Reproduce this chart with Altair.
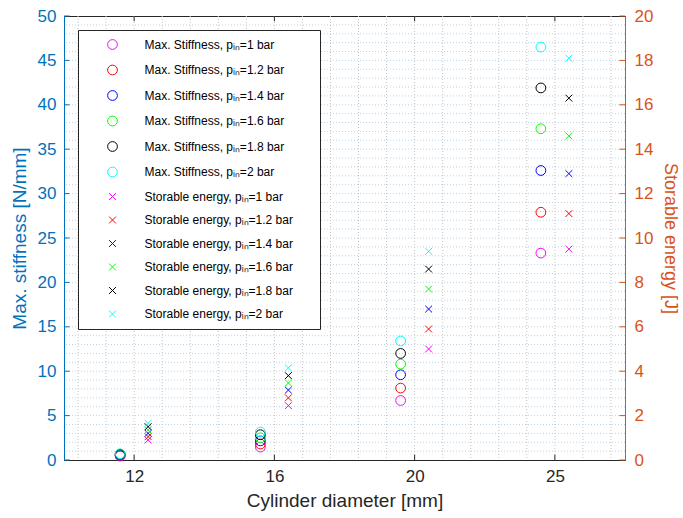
import altair as alt
import pandas as pd

# ---------------- data ----------------
diameters = ["12", "16", "20", "25"]          # tick labels (categorical positions 1..4)
positions = [1, 2, 3, 4]
pressures = ["1", "1.2", "1.4", "1.6", "1.8", "2"]
colors = ["#FF00FF", "#FF0000", "#0000FF", "#00FF00", "#000000", "#00FFFF"]

# Max. stiffness [N/mm] per pressure, for diameters 12, 16, 20, 25
stiff_p10 = [0.45, 1.45, 6.7, 23.3]
stiff_p12 = [0.50, 1.80, 8.1, 27.9]
stiff_p14 = [0.55, 2.15, 9.6, 32.6]
stiff_p16 = [0.60, 2.50, 10.8, 37.3]
stiff_p18 = [0.65, 2.85, 12.0, 41.9]
stiff_p20 = [0.70, 3.15, 13.4, 46.5]

# Storable energy [J] per pressure, for diameters 12, 16, 20, 25
energy_p10 = [0.90, 2.45, 5.0, 9.5]
energy_p12 = [1.05, 2.80, 5.9, 11.1]
energy_p14 = [1.20, 3.15, 6.8, 12.9]
energy_p16 = [1.35, 3.47, 7.7, 14.6]
energy_p18 = [1.50, 3.80, 8.6, 16.3]
energy_p20 = [1.65, 4.15, 9.4, 18.1]

stiffness = [stiff_p10, stiff_p12, stiff_p14, stiff_p16, stiff_p18, stiff_p20]
energy = [energy_p10, energy_p12, energy_p14, energy_p16, energy_p18, energy_p20]

SUB = "\u1d62\u2099"  # subscript "in"
lab_s = [f"Max. Stiffness, p{SUB}={p} bar" for p in pressures]
lab_e = [f"Storable energy, p{SUB}={p} bar" for p in pressures]

rows_s, rows_e = [], []
for i in range(len(pressures)):
    for j, pos in enumerate(positions):
        rows_s.append({"pos": pos, "series": lab_s[i], "value": stiffness[i][j]})
        rows_e.append({"pos": pos, "series": lab_e[i], "value": energy[i][j]})
df_s = pd.DataFrame(rows_s)
df_e = pd.DataFrame(rows_e)

# grid / tick helper tables (axis positions)
vgrid = pd.DataFrame({"gx": [round(0.6 + 0.2 * k, 1) for k in range(20)]})
hgrid = pd.DataFrame({"gy": list(range(1, 50))})
xticks = pd.DataFrame({"x": positions})
lticks = pd.DataFrame({"y": list(range(0, 51, 5))})
rticks = pd.DataFrame({"y": list(range(0, 21, 2))})

# ---------------- style ----------------
FONT = "Liberation Sans"
LEFT_C = "#0072BD"
RIGHT_C = "#D95319"
AX_C = "#262626"
XPATH = "M-0.7,-0.7L0.7,0.7M-0.7,0.7L0.7,-0.7"

xs = alt.Scale(domain=[0.5, 4.5], nice=False, zero=False)
label_expr = "[" + ",".join(f"'{d}'" for d in diameters) + "][round(datum.value)-1]"
xaxis = alt.Axis(values=positions, labelExpr=label_expr, title="Cylinder diameter [mm]",
                 grid=False, ticks=False, domainColor=AX_C, labelColor=AX_C, titleColor=AX_C,
                 labelFontSize=17, titleFontSize=19, titleFontWeight="normal",
                 labelPadding=8, titlePadding=7, labelFont=FONT, titleFont=FONT)

ls = alt.Scale(domain=[0, 50], nice=False, zero=True)
laxis = alt.Axis(values=list(range(0, 51, 5)), title="Max. stiffness [N/mm]", orient="left",
                 grid=False, ticks=False, domainColor=LEFT_C, labelColor=LEFT_C, titleColor=LEFT_C,
                 labelFontSize=17, titleFontSize=19, titleFontWeight="normal",
                 labelPadding=8, titlePadding=8, labelFont=FONT, titleFont=FONT)

rs = alt.Scale(domain=[0, 20], nice=False, zero=True)
raxis = alt.Axis(values=list(range(0, 21, 2)), title="Storable energy [J]", orient="right",
                 grid=False, ticks=False, domainColor=RIGHT_C, labelColor=RIGHT_C, titleColor=RIGHT_C,
                 labelFontSize=17, titleFontSize=18, titleFontWeight="normal",
                 labelPadding=9, titlePadding=8, labelFont=FONT, titleFont=FONT)

legend = alt.Legend(title=None, orient="none", legendX=14, legendY=14,
                    fillColor="white", strokeColor=AX_C, padding=8.5,
                    symbolOffset=20, labelOffset=26, rowPadding=11.5,
                    labelFont=FONT, labelFontSize=12, labelColor="black",
                    symbolSize=95, symbolStrokeWidth=1, labelLimit=400,
                    labelExpr="datum.label + '\u2003\u2002\u200b'")

all_labels = lab_s + lab_e
color_scale = alt.Scale(domain=all_labels, range=colors + colors)
shape_scale = alt.Scale(domain=all_labels, range=["circle"] * 6 + [XPATH] * 6)

# ---------------- layers ----------------
vgrid_l = alt.Chart(vgrid).mark_rule(color="#c4c4c4", strokeDash=[1, 2], strokeWidth=1).encode(
    x=alt.X("gx:Q", scale=xs, axis=xaxis))
hgrid_l = alt.Chart(hgrid).mark_rule(color="#b9d4ea", strokeDash=[1, 2], strokeWidth=1).encode(
    y=alt.Y("gy:Q", scale=ls, axis=laxis))

bt = alt.Chart(xticks).transform_calculate(y1="0", y2="0.6").mark_rule(color=AX_C).encode(
    x=alt.X("x:Q", scale=xs, axis=xaxis), y=alt.Y("y1:Q", scale=ls, axis=laxis), y2="y2:Q")
tt = alt.Chart(xticks).transform_calculate(y1="50", y2="49.4").mark_rule(color=AX_C).encode(
    x=alt.X("x:Q", scale=xs, axis=xaxis), y=alt.Y("y1:Q", scale=ls, axis=laxis), y2="y2:Q")
lt = alt.Chart(lticks).transform_calculate(x1="0.5", x2="0.54").mark_rule(color=LEFT_C).encode(
    x=alt.X("x1:Q", scale=xs, axis=xaxis), x2="x2:Q", y=alt.Y("y:Q", scale=ls, axis=laxis))
rt = alt.Chart(rticks).transform_calculate(x1="4.46", x2="4.5").mark_rule(color=RIGHT_C).encode(
    x=alt.X("x1:Q", scale=xs, axis=xaxis), x2="x2:Q", y=alt.Y("y:Q", scale=rs, axis=raxis))

circles = alt.Chart(df_s).mark_point(filled=False, size=95, strokeWidth=1, xOffset=-14, opacity=1).encode(
    x=alt.X("pos:Q", scale=xs, axis=xaxis),
    y=alt.Y("value:Q", scale=ls, axis=laxis),
    color=alt.Color("series:N", scale=color_scale, legend=legend),
    shape=alt.Shape("series:N", scale=shape_scale, legend=legend),
)
crosses = alt.Chart(df_e).mark_point(filled=False, size=95, strokeWidth=1, xOffset=14, opacity=1).encode(
    x=alt.X("pos:Q", scale=xs, axis=xaxis),
    y=alt.Y("value:Q", scale=rs, axis=raxis),
    color=alt.Color("series:N", scale=color_scale, legend=legend),
    shape=alt.Shape("series:N", scale=shape_scale, legend=legend),
)

left = alt.layer(vgrid_l, hgrid_l, bt, tt, lt, circles)
right = alt.layer(rt, crosses)

chart = alt.layer(left, right).resolve_scale(y="independent").properties(
    width=561, height=444,
    autosize=alt.AutoSizeParams(type="none"),
    padding={"left": 64, "top": 16, "right": 58, "bottom": 58},
).configure(font=FONT).configure_view(stroke=AX_C, strokeWidth=1)

chart.save("out.html", embed_options={"renderer": "svg", "actions": False})
